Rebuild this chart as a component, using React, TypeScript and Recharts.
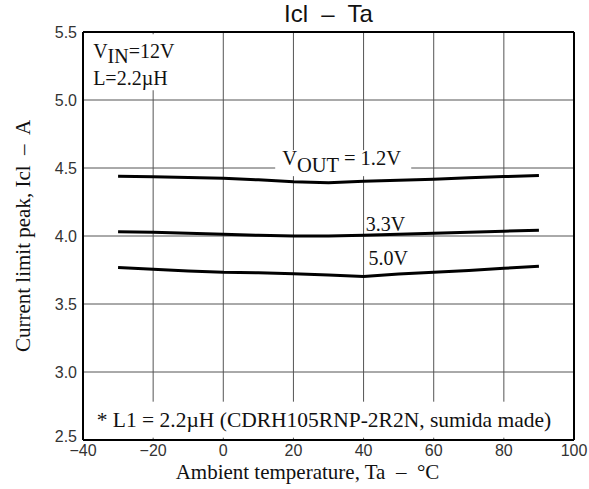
import {
  LineChart,
  Line,
  XAxis,
  YAxis,
  CartesianGrid,
  ReferenceLine,
  ReferenceDot,
  Label,
} from "recharts";

// ambient temperature (°C) and peak current limit (A) per output voltage
const temps = [-30, -20, -10, 0, 10, 20, 30, 40, 50, 60, 70, 80, 90];
const icl12 = [4.44, 4.436, 4.43, 4.425, 4.413, 4.398, 4.392, 4.403, 4.41, 4.418, 4.428, 4.437, 4.445];
const icl33 = [4.032, 4.027, 4.02, 4.013, 4.005, 4.0, 4.0, 4.005, 4.013, 4.02, 4.027, 4.035, 4.043];
const icl50 = [3.768, 3.755, 3.742, 3.733, 3.73, 3.723, 3.713, 3.703, 3.72, 3.733, 3.747, 3.762, 3.778];

const xTicks = [-40, -20, 0, 20, 40, 60, 80, 100];
const yTicks = [2.5, 3.0, 3.5, 4.0, 4.5, 5.0, 5.5];

const title = "Icl  –  Ta";
const xTitle = "Ambient temperature, Ta  –  °C";
const yTitle = "Current limit peak, Icl  –  A";
const footnote = "* L1 = 2.2µH (CDRH105RNP-2R2N, sumida made)";

const data = temps.map((t, i) => ({ t, v12: icl12[i], v33: icl33[i], v50: icl50[i] }));

const SERIF = "'Liberation Serif', 'Times New Roman', serif";
const SANS = "'Liberation Sans', Arial, sans-serif";

const tickStyle = { fill: "#333", fontSize: 16, fontFamily: SANS };

// y tick: lowest label sits a little above the bottom frame, like the original
const YTick = (p: any) => {
  const v = p.payload.value;
  return (
    <text
      x={p.x}
      y={p.y + (v === 2.5 ? -4 : 0)}
      dy="0.355em"
      textAnchor="end"
      fill="#333"
      fontSize={16}
      fontFamily={SANS}
    >
      {v.toFixed(1)}
    </text>
  );
};

function App() {
  return (
    <div style={{ position: "absolute", left: 0, top: 0, width: 589, height: 489, background: "#fff" }}>
      <div
        style={{
          position: "absolute",
          left: 83,
          width: 491,
          top: 2,
          textAlign: "center",
          fontFamily: SANS,
          fontSize: 24,
          lineHeight: "24px",
          color: "#111",
          whiteSpace: "pre",
        }}
      >
        {title}
      </div>
      <LineChart
        width={589}
        height={489}
        data={data}
        margin={{ top: 32, right: 15, bottom: 0, left: 0 }}
      >
        <CartesianGrid stroke="#555" strokeWidth={1} />
        <XAxis
          dataKey="t"
          type="number"
          domain={[-40, 100]}
          ticks={xTicks}
          height={49}
          tickLine={false}
          axisLine={false}
          tickSize={5}
          tickMargin={0}
          tick={tickStyle}
          tickFormatter={(v: number) => (v < 0 ? "−" + Math.abs(v) : String(v))}
        >
          <Label
            content={(p: any) => {
              const vb = p.viewBox;
              return (
                <text
                  x={vb.x + vb.width / 2 - 21}
                  y={vb.y + 39}
                  textAnchor="middle"
                  fontFamily={SERIF}
                  fontSize={21}
                  fill="#111"
                  style={{ whiteSpace: "pre" }}
                >
                  {xTitle}
                </text>
              );
            }}
          />
        </XAxis>
        <YAxis
          type="number"
          domain={[2.5, 5.5]}
          ticks={yTicks}
          width={83}
          tickLine={false}
          axisLine={false}
          tickSize={6}
          tickMargin={0}
          tick={<YTick />}
        >
          <Label
            content={(p: any) => {
              const vb = p.viewBox;
              const cy = vb.y + vb.height / 2;
              return (
                <text
                  x={30}
                  y={cy}
                  transform={`rotate(-90 30 ${cy})`}
                  textAnchor="middle"
                  fontFamily={SERIF}
                  fontSize={21}
                  fill="#111"
                  style={{ whiteSpace: "pre" }}
                >
                  {yTitle}
                </text>
              );
            }}
          />
        </YAxis>

        {/* white-backed annotations */}
        <ReferenceDot
          x={-37.1}
          y={5.307}
          r={0}
          ifOverflow="visible"
          shape={(p: any) => (
            <g>
              <rect x={p.cx - 9} y={p.cy - 24} width={96} height={56} fill="#fff" />
              <text x={p.cx} y={p.cy} fontFamily={SERIF} fontSize={20} fill="#111">
                V<tspan dy={5}>IN</tspan>
                <tspan dy={-5}>=12V</tspan>
              </text>
              <text x={p.cx} y={p.cy + 27} fontFamily={SERIF} fontSize={20} fill="#111">
                L=2.2µH
              </text>
            </g>
          )}
        />
        <ReferenceDot
          x={16.8}
          y={4.521}
          r={0}
          ifOverflow="visible"
          shape={(p: any) => (
            <g>
              <rect x={p.cx - 7} y={p.cy - 15} width={136} height={26} fill="#fff" />
              <text x={p.cx} y={p.cy} fontFamily={SERIF} fontSize={20.5} fill="#111" style={{ whiteSpace: "pre" }}>
                V<tspan dy={6.5}>OUT</tspan>
                <tspan dy={-6.5}>{" = 1.2V"}</tspan>
              </text>
            </g>
          )}
        />
        <ReferenceDot
          x={40.6}
          y={4.038}
          r={0}
          ifOverflow="visible"
          shape={(p: any) => (
            <text x={p.cx} y={p.cy} fontFamily={SERIF} fontSize={20} fill="#111">
              3.3V
            </text>
          )}
        />
        <ReferenceDot
          x={41.4}
          y={3.786}
          r={0}
          ifOverflow="visible"
          shape={(p: any) => (
            <text x={p.cx} y={p.cy} fontFamily={SERIF} fontSize={20} fill="#111">
              5.0V
            </text>
          )}
        />
        <ReferenceDot
          x={-36.1}
          y={2.598}
          r={0}
          ifOverflow="visible"
          shape={(p: any) => (
            <g>
              <rect x={p.cx - 11} y={p.cy - 25} width={487} height={36} fill="#fff" />
              <text x={p.cx} y={p.cy} fontFamily={SERIF} fontSize={21.5} fill="#111">
                {footnote}
              </text>
            </g>
          )}
        />

        <Line type="linear" dataKey="v12" stroke="#000" strokeWidth={3} dot={false} isAnimationActive={false} />
        <Line type="linear" dataKey="v33" stroke="#000" strokeWidth={3} dot={false} isAnimationActive={false} />
        <Line type="linear" dataKey="v50" stroke="#000" strokeWidth={3} dot={false} isAnimationActive={false} />

        {/* plot frame */}
        <ReferenceLine x={-40} stroke="#000" strokeWidth={2} ifOverflow="visible" />
        <ReferenceLine x={100} stroke="#000" strokeWidth={2} ifOverflow="visible" />
        <ReferenceLine y={2.5} stroke="#000" strokeWidth={2} ifOverflow="visible" />
        <ReferenceLine y={5.5} stroke="#000" strokeWidth={2} ifOverflow="visible" />
      </LineChart>
    </div>
  );
}

export default App;
